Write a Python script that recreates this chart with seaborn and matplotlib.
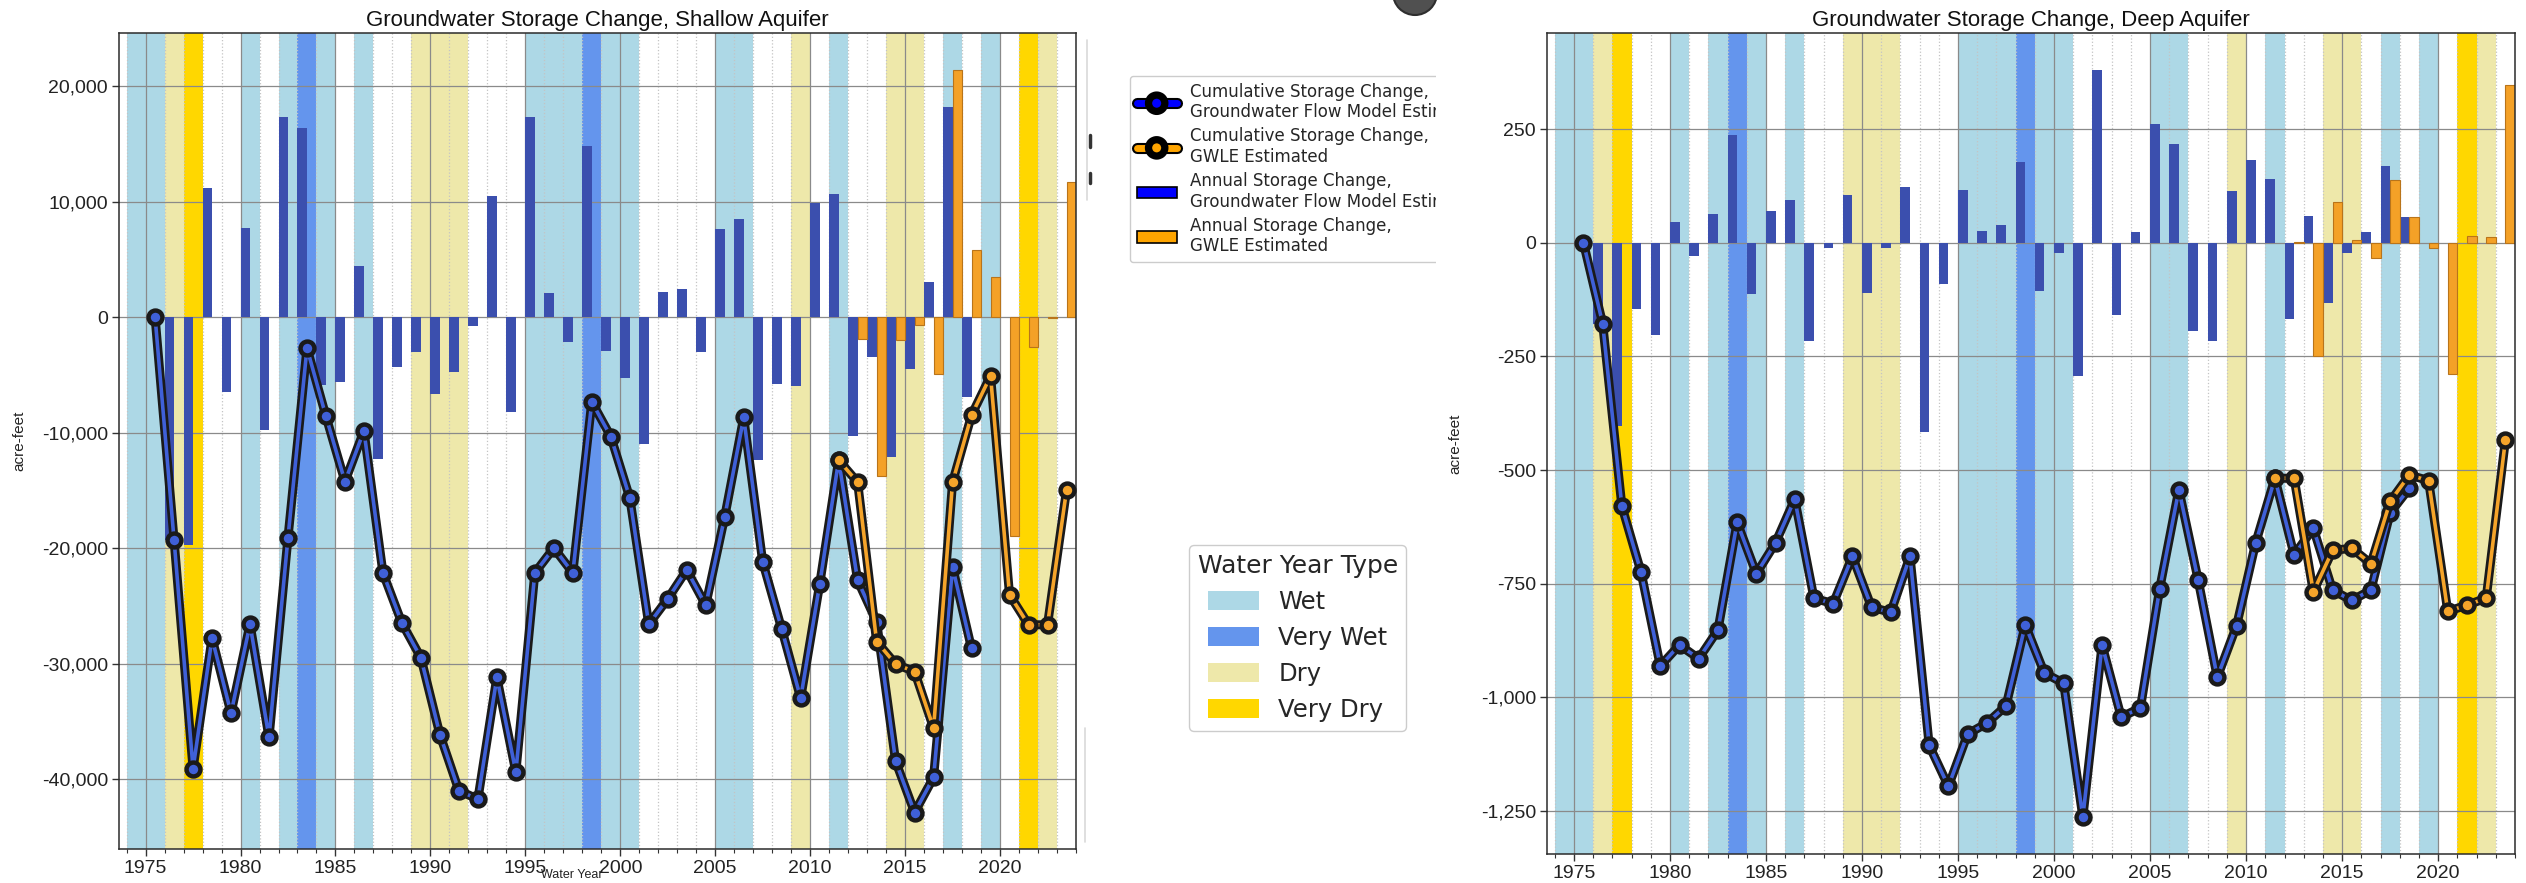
import matplotlib
matplotlib.use('Agg')
import matplotlib.pyplot as plt
import matplotlib.patheffects as pe
from matplotlib.patches import Patch, Rectangle, Ellipse
from matplotlib.lines import Line2D
from matplotlib.ticker import FuncFormatter, MultipleLocator
import seaborn as sns
import numpy as np

# water year type of each year (band drawn over [year, year + 1])
wet_years = [1974, 1975, 1980, 1982, 1984, 1986, 1995, 1996, 1997, 1999, 2000,
             2005, 2006, 2011, 2017, 2019]
very_wet_years = [1983, 1998]
dry_years = [1976, 1989, 1990, 1991, 2009, 2014, 2015, 2022]
very_dry_years = [1977, 2021]

# groundwater flow model: cumulative (end of year) and annual change
model_cum_years = list(range(1975, 2019))
model_bar_years = list(range(1976, 2019))
# GWLE estimated
gwle_cum_years = list(range(2011, 2024))
gwle_bar_years = list(range(2012, 2024))

shallow_cum_model = [0, -19300, -39100, -27800, -34300, -26600, -36400, -19100, -2700, -8600,
                     -14250, -9850, -22150, -26500, -29500, -36150, -41000, -41750, -31200, -39400,
                     -22150, -20000, -22150, -7350, -10350, -15650, -26600, -24400, -21900, -24950,
                     -17300, -8700, -21200, -27000, -33000, -23150, -12400, -22800, -26400, -38450,
                     -42900, -39850, -21650, -28700]
shallow_annual_model = [-19300, -19700, 11200, -6500, 7700, -9800, 17300, 16400, -5900, -5600,
                        4400, -12300, -4350, -3050, -6700, -4800, -800, 10500, -8200, 17300,
                        2050, -2200, 14800, -2950, -5300, -11000, 2150, 2450, -3000, 7600,
                        8500, -12400, -5800, -6000, 9870, 10650, -10300, -3500, -12100, -4500,
                        3060, 18200, -6950]
shallow_cum_gwle = [-12400, -14300, -28100, -30050, -30700, -35600, -14300, -8500, -5100,
                    -24050, -26650, -26650, -15000]
shallow_annual_gwle = [-1900, -13800, -1950, -650, -4900, 21350, 5800, 3450, -19000, -2630,
                       -60, 11650]

deep_cum_model = [0, -178, -580, -725, -931, -885, -915, -852, -615, -728,
                  -660, -564, -782, -794, -690, -802, -813, -690, -1106, -1196,
                  -1081, -1057, -1019, -841, -947, -969, -1264, -885, -1044, -1023,
                  -761, -543, -741, -956, -843, -660, -518, -687, -628, -764,
                  -787, -764, -594, -540]
deep_annual_model = [-178, -402, -145, -203, 47, -28, 64, 237, -112, 70,
                     94, -215, -12, 105, -110, -12, 123, -416, -90, 116,
                     27, 39, 179, -105, -22, -293, 380, -158, 23, 262,
                     218, -194, -215, 115, 183, 141, -168, 59, -132, -23,
                     23, 170, 56]
deep_cum_gwle = [-518, -518, -768, -677, -672, -706, -569, -511, -523, -811, -797, -782, -434]
deep_annual_gwle = [3, -250, 91, 6, -33, 139, 58, -11, -288, 15, 14, 348]

shallow_yticks = [20000, 10000, 0, -10000, -20000, -30000, -40000]
deep_yticks = [250, 0, -250, -500, -750, -1000, -1250]

WET, VERY_WET, DRY, VERY_DRY = '#add8e6', '#6495ed', '#eee8aa', '#ffd700'
BAR_BLUE, BAR_ORANGE = '#3b4fae', '#f4a127'
LINE_BLUE, LINE_ORANGE, DARK = '#3f60d8', '#f5a42a', '#1a1a1a'

W, H = 2526, 883

sns.set_style('ticks')
plt.rcParams['font.family'] = ['Liberation Sans', 'DejaVu Sans']

fig = plt.figure(figsize=(W / 100, H / 100), dpi=100)


def px_box(x0, y0, x1, y1):
    return [x0 / W, 1 - y1 / H, (x1 - x0) / W, (y1 - y0) / H]


def draw_panel(ax, cum_model, ann_model, cum_gwle, ann_gwle, ylim, yticks, title):
    for years, col in [(wet_years, WET), (very_wet_years, VERY_WET),
                       (dry_years, DRY), (very_dry_years, VERY_DRY)]:
        for y in years:
            ax.axvspan(y, y + 1, color=col, lw=0, zorder=0.2)

    sns.barplot(x=np.array(model_bar_years) + 0.25, y=ann_model, native_scale=True, orient='x',
                width=0.5, color=BAR_BLUE, saturation=1, errorbar=None, linewidth=0,
                ax=ax, zorder=2)
    sns.barplot(x=np.array(gwle_bar_years) + 0.75, y=ann_gwle, native_scale=True, orient='x',
                width=0.5, color=BAR_ORANGE, saturation=1, errorbar=None,
                edgecolor='#b9741a', linewidth=0.8, ax=ax, zorder=2)

    for yrs, vals, col, z in [(model_cum_years, cum_model, LINE_BLUE, 3),
                              (gwle_cum_years, cum_gwle, LINE_ORANGE, 5)]:
        xs = np.array(yrs) + 0.5
        sns.lineplot(x=xs, y=vals, ax=ax, color=DARK, lw=6.5, sort=False, zorder=z)
        sns.lineplot(x=xs, y=vals, ax=ax, color=col, lw=2.6, sort=False, zorder=z + 0.5,
                     marker='o', markersize=10, markerfacecolor=col,
                     markeredgecolor=DARK, markeredgewidth=3.2)

    ax.set_xlim(1973.6, 2024.0)
    ax.set_ylim(*ylim)
    ax.set_yticks(yticks)
    ax.yaxis.set_major_formatter(FuncFormatter(lambda v, p: f'{v:,.0f}'))
    ax.xaxis.set_major_locator(MultipleLocator(5))
    ax.xaxis.set_minor_locator(MultipleLocator(1))
    ax.xaxis.set_major_formatter(FuncFormatter(lambda v, p: f'{v:.0f}'))
    ax.set_axisbelow('line')
    ax.grid(which='major', axis='both', color='#8a8a8a', lw=0.9)
    ax.grid(which='minor', axis='x', color='#c4c4c4', ls=':', lw=0.9)
    ax.tick_params(which='major', length=5, width=1, color='#333333', labelsize=14,
                   labelcolor='#222222', pad=3)
    ax.tick_params(which='minor', length=3, width=0.8, color='#333333')
    for s in ax.spines.values():
        s.set_color('#2b2b2b')
        s.set_linewidth(1.1)
    ax.set_title(title, fontsize=16, pad=5, color='#111111')
    ax.set_ylabel('acre-feet', fontsize=11, color='#222222')
    ax.set_xlabel('')


ax1 = fig.add_axes(px_box(119, 33, 1076, 849))
draw_panel(ax1, shallow_cum_model, shallow_annual_model, shallow_cum_gwle, shallow_annual_gwle,
           (-46060, 24590), shallow_yticks, 'Groundwater Storage Change, Shallow Aquifer')
ax1.yaxis.set_label_coords(-0.097, 0.5)
# x label sits at the very bottom edge, between two tick labels
ax1.set_xlabel('Water Year', fontsize=9, color='#222222', va='bottom')
ax1.xaxis.set_label_coords(0.473, -0.0395)

ax2 = fig.add_axes(px_box(1547, 33, 2515, 854))
draw_panel(ax2, deep_cum_model, deep_annual_model, deep_cum_gwle, deep_annual_gwle,
           (-1345, 462), deep_yticks, 'Groundwater Storage Change, Deep Aquifer')
ax2.yaxis.set_label_coords(-0.087, 0.5)
ax2.set_zorder(7)

# series legend
series_handles = [
    Line2D([], [], color='blue', lw=5, marker='o', markersize=9, markerfacecolor='blue',
           markeredgecolor='black', markeredgewidth=2.5,
           path_effects=[pe.Stroke(linewidth=8, foreground='black'), pe.Normal()]),
    Line2D([], [], color='orange', lw=5, marker='o', markersize=9, markerfacecolor='orange',
           markeredgecolor='black', markeredgewidth=2.5,
           path_effects=[pe.Stroke(linewidth=8, foreground='black'), pe.Normal()]),
    Patch(facecolor='blue', edgecolor='black', lw=1.2),
    Patch(facecolor='orange', edgecolor='black', lw=1.2),
]
series_labels = ['Cumulative Storage Change,\nGroundwater Flow Model Estimated',
                 'Cumulative Storage Change,\nGWLE Estimated',
                 'Annual Storage Change,\nGroundwater Flow Model Estimated',
                 'Annual Storage Change,\nGWLE Estimated']
fig.legend(series_handles, series_labels, loc='upper left', bbox_to_anchor=(1130 / W, 1 - 76 / H),
           borderaxespad=0, prop={'family': 'DejaVu Sans', 'size': 12}, handlelength=2.4,
           labelspacing=0.35, frameon=True, edgecolor='#cccccc', framealpha=1)

# water year type legend
type_handles = [Patch(facecolor=c, edgecolor='none') for c in [WET, VERY_WET, DRY, VERY_DRY]]
fig.legend(type_handles, ['Wet', 'Very Wet', 'Dry', 'Very Dry'], title='Water Year Type',
           loc='upper left', bbox_to_anchor=(1189 / W, 1 - 545 / H), borderaxespad=0,
           prop={'family': 'DejaVu Sans', 'size': 17.5},
           title_fontproperties={'family': 'DejaVu Sans', 'size': 18},
           handlelength=2.1, handleheight=0.8, labelspacing=0.5, borderpad=0.35,
           frameon=True, edgecolor='#cccccc', framealpha=1)

# the right panel overlaps the series legend in the original screenshot
fig.add_artist(Rectangle((1436 / W, 1 - 290 / H), 100 / W, 250 / H, transform=fig.transFigure,
                         facecolor='white', edgecolor='none', zorder=6))

# small leftovers of the screenshot
for (x, y0, y1) in [(1087, 40, 200), (1085, 728, 842)]:
    fig.add_artist(Line2D([x / W, x / W], [1 - y0 / H, 1 - y1 / H], color='#d9d9d9', lw=1.2,
                          transform=fig.transFigure, zorder=6))
for (y0, y1) in [(135, 147), (173, 183)]:
    fig.add_artist(Line2D([1090 / W, 1090 / W], [1 - y0 / H, 1 - y1 / H], color='#333333', lw=2.5,
                          transform=fig.transFigure, zorder=6))
fig.add_artist(Ellipse((1415 / W, 1 + 7 / H), 44 / W, 44 / H, transform=fig.transFigure,
                       facecolor='#505050', edgecolor='#2e2e2e', lw=1.5, zorder=6))

fig.savefig('out.png', dpi=100, facecolor='white')
